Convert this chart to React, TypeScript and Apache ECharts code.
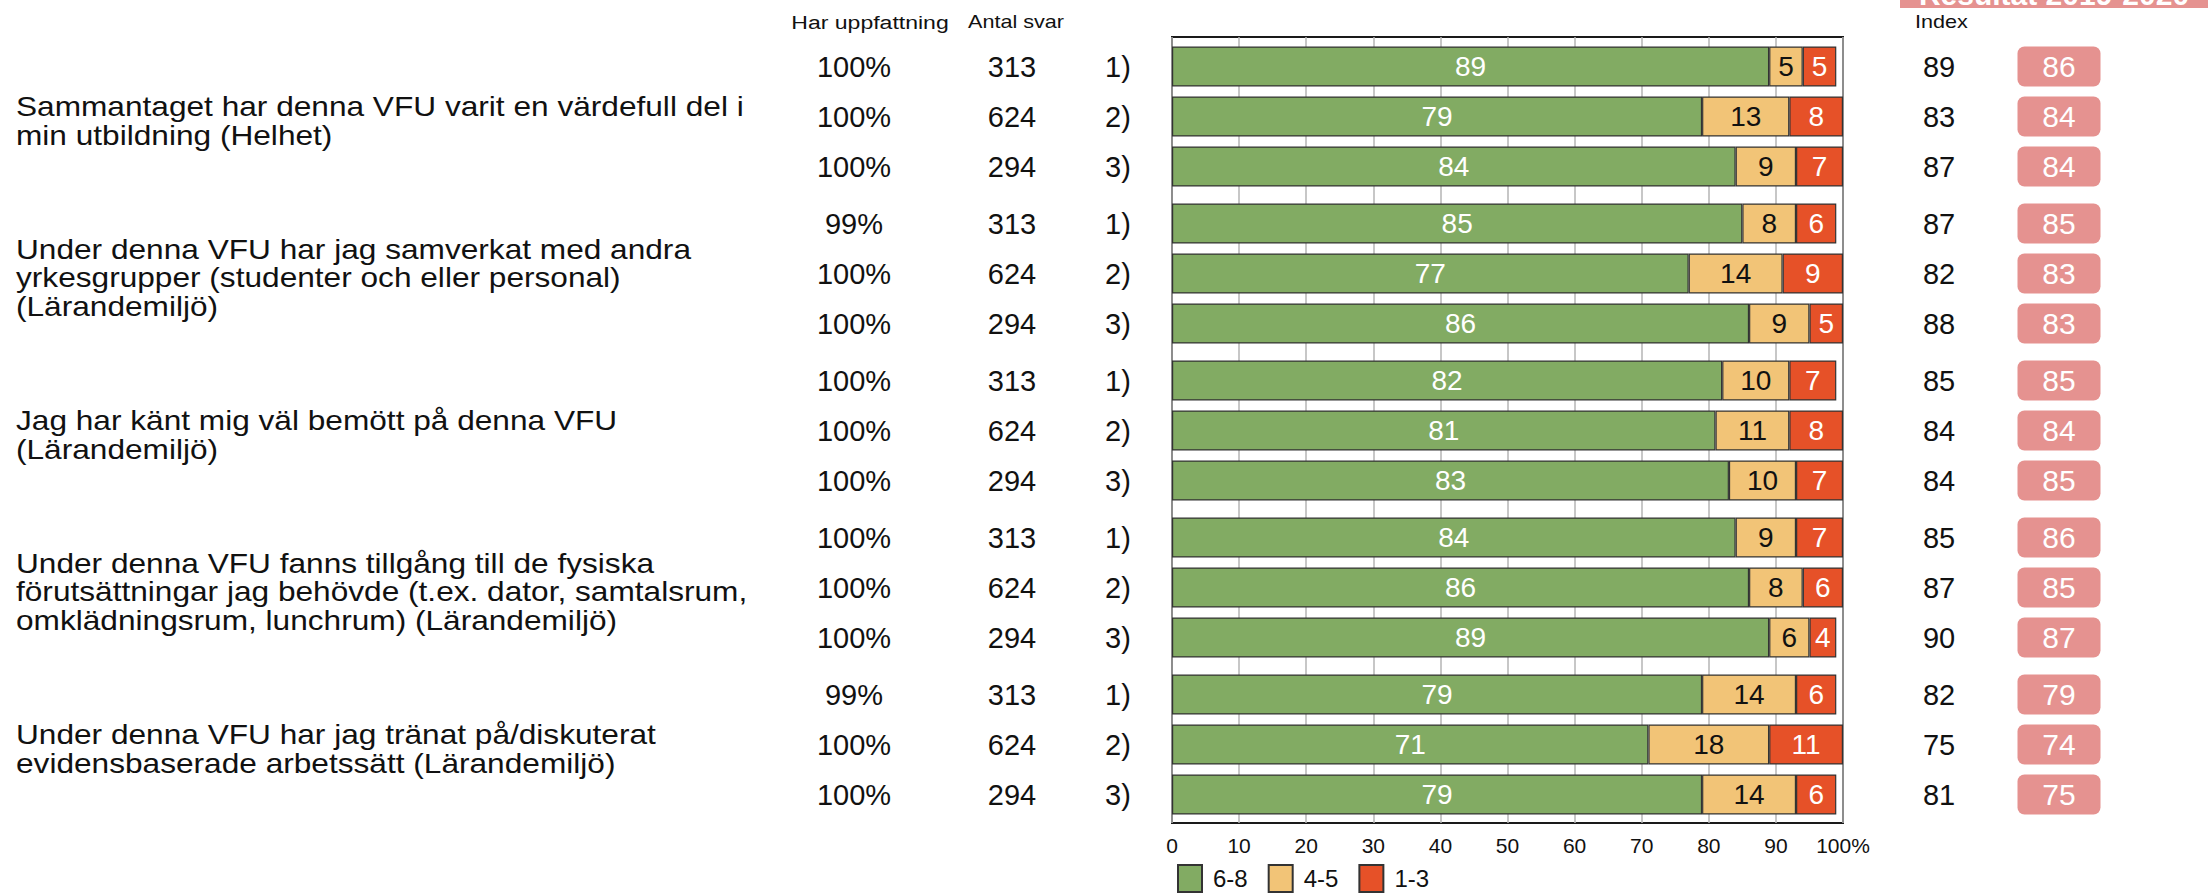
import React, { useEffect, useRef } from "react";
import * as echarts from "echarts";

const questions = [
  "Sammantaget har denna VFU varit en värdefull del i\nmin utbildning (Helhet)",
  "Under denna VFU har jag samverkat med andra\nyrkesgrupper (studenter och eller personal)\n(Lärandemiljö)",
  "Jag har känt mig väl bemött på denna VFU\n(Lärandemiljö)",
  "Under denna VFU fanns tillgång till de fysiska\nförutsättningar jag behövde (t.ex. dator, samtalsrum,\nomklädningsrum, lunchrum) (Lärandemiljö)",
  "Under denna VFU har jag tränat på/diskuterat\nevidensbaserade arbetssätt (Lärandemiljö)",
];
const periods = ["1)", "2)", "3)"];
const antal = ["313", "624", "294"];
const harUppfattning = [
  "100%", "100%", "100%",
  "99%", "100%", "100%",
  "100%", "100%", "100%",
  "100%", "100%", "100%",
  "99%", "100%", "100%",
];
const green68 = [89, 79, 84, 85, 77, 86, 82, 81, 83, 84, 86, 89, 79, 71, 79];
const yellow45 = [5, 13, 9, 8, 14, 9, 10, 11, 10, 9, 8, 6, 14, 18, 14];
const red13 = [5, 8, 7, 6, 9, 5, 7, 8, 7, 7, 6, 4, 6, 11, 6];
const indexVals = [89, 83, 87, 87, 82, 88, 85, 84, 84, 85, 87, 90, 82, 75, 81];
const prevVals = [86, 84, 84, 85, 83, 83, 85, 84, 85, 86, 85, 87, 79, 74, 75];
const xTicks = [0, 10, 20, 30, 40, 50, 60, 70, 80, 90, 100];
const legendNames = ["6-8", "4-5", "1-3"];

const FONT = "'Liberation Sans', Arial, Helvetica, sans-serif";
const GREEN = "#82ab63";
const YELLOW = "#f2c477";
const RED = "#e65128";
const PINK = "#e59290";

export default function App() {
  const ref = useRef<HTMLDivElement>(null);
  useEffect(() => {
    document.body.style.margin = "0";
    const chart = echarts.init(ref.current!, null, { renderer: "svg" });

    const GL = 1172;
    const GW = 671;
    const FRAME_TOP = 37;
    const FRAME_BOTTOM = 823;
    const G0 = 41.5;
    const GSTEP = 157;
    const GH = 150;

    const grids: any[] = [
      {
        left: GL,
        top: FRAME_TOP,
        width: GW,
        height: FRAME_BOTTOM - FRAME_TOP,
        show: true,
        borderColor: "#1a1a1a",
        borderWidth: 2,
        backgroundColor: "transparent",
      },
    ];
    const xAxes: any[] = [
      {
        gridIndex: 0,
        type: "value",
        min: 0,
        max: 100,
        interval: 10,
        axisLine: { show: false },
        axisTick: { show: false },
        splitLine: { show: true, lineStyle: { color: "#b5b5b5", width: 1.5 } },
        axisLabel: {
          fontFamily: FONT,
          fontSize: 21,
          color: "#111",
          margin: 12,
          formatter: (v: number) => (v === 100 ? "100%" : String(v)),
        },
        data: xTicks,
      },
    ];
    const yAxes: any[] = [
      { gridIndex: 0, type: "value", min: 0, max: 1, show: false },
    ];
    const series: any[] = [];

    const numLabel = { fontFamily: FONT, fontSize: 29, color: "#111" };

    for (let g = 0; g < 5; g++) {
      const gi = g + 1;
      const rows = [g * 3, g * 3 + 1, g * 3 + 2];
      grids.push({ left: GL, top: G0 + g * GSTEP, width: GW, height: GH });
      xAxes.push({ gridIndex: gi, type: "value", min: 0, max: 100, show: false });
      const yBase = yAxes.length;
      const common = {
        gridIndex: gi,
        type: "category",
        inverse: true,
        axisLine: { show: false },
        axisTick: { show: false },
        splitLine: { show: false },
      };
      yAxes.push({
        ...common,
        position: "left",
        offset: 54,
        data: periods,
        axisLabel: { ...numLabel, margin: 0, align: "center" },
      });
      yAxes.push({
        ...common,
        position: "left",
        offset: 160,
        data: rows.map((r) => antal[r % 3]),
        axisLabel: { ...numLabel, margin: 0, align: "center" },
      });
      yAxes.push({
        ...common,
        position: "left",
        offset: 318,
        data: rows.map((r) => harUppfattning[r]),
        axisLabel: { ...numLabel, margin: 0, align: "center" },
      });
      yAxes.push({
        ...common,
        position: "right",
        offset: 96,
        data: rows.map((r) => String(indexVals[r])),
        axisLabel: { ...numLabel, margin: 0, align: "center" },
      });
      yAxes.push({
        ...common,
        position: "right",
        offset: 216,
        data: rows.map((r) => String(prevVals[r])),
        axisLabel: {
          fontFamily: FONT,
          fontSize: 30,
          color: "#fff",
          margin: 0,
          align: "center",
          backgroundColor: PINK,
          borderRadius: 7,
          width: 83,
          height: 40,
          lineHeight: 40,
        },
      });
      const mk = (name: string, vals: number[], color: string, lblColor: string) => ({
        type: "bar",
        name,
        stack: "s" + g,
        xAxisIndex: gi,
        yAxisIndex: yBase,
        barWidth: 40,
        data: rows.map((r) => vals[r]),
        itemStyle: { color, borderColor: "#333", borderWidth: 1.2 },
        label: {
          show: true,
          position: "inside",
          fontFamily: FONT,
          fontSize: 28,
          color: lblColor,
        },
      });
      series.push(mk(legendNames[0], green68, GREEN, "#fff"));
      series.push(mk(legendNames[1], yellow45, YELLOW, "#111"));
      series.push(mk(legendNames[2], red13, RED, "#fff"));
    }

    const header = (text: string, x: number, align: string, sx: number) => ({
      type: "text",
      x,
      y: 22,
      scaleX: sx,
      style: {
        text,
        fill: "#111",
        font: `18px ${FONT}`,
        textAlign: align,
        textVerticalAlign: "middle",
      },
    });

    const graphics: any[] = [
      {
        type: "rect",
        shape: { x: 1900, y: -30, width: 308, height: 38 },
        style: { fill: PINK },
      },
      {
        type: "text",
        x: 2054,
        y: 9,
        style: {
          text: "Resultat 2019-2020",
          fill: "#fff",
          font: `bold 30px ${FONT}`,
          textAlign: "center",
          textVerticalAlign: "bottom",
        },
      },
      header("Har uppfattning", 870, "center", 1.28),
      header("Antal svar", 1016, "center", 1.2),
      header("Index", 1915, "left", 1.2),
    ];
    questions.forEach((q, g) => {
      graphics.push({
        type: "text",
        x: 16,
        y: G0 + g * GSTEP + GH / 2 + 4,
        scaleX: 1.13,
        style: {
          text: q,
          fill: "#111",
          font: `28px ${FONT}`,
          lineHeight: 28.5,
          textAlign: "left",
          textVerticalAlign: "middle",
        },
      });
    });

    chart.setOption({
      animation: false,
      backgroundColor: "#fff",
      grid: grids,
      xAxis: xAxes,
      yAxis: yAxes,
      series,
      legend: {
        data: legendNames,
        left: GL,
        top: 859,
        icon: "rect",
        itemWidth: 24,
        itemHeight: 27,
        itemGap: 20,
        textStyle: { fontFamily: FONT, fontSize: 24, color: "#111", padding: [0, 0, 0, 6] },
      },
      graphic: graphics,
    });
    return () => chart.dispose();
  }, []);
  return <div ref={ref} style={{ width: 2208, height: 893 }} />;
}
